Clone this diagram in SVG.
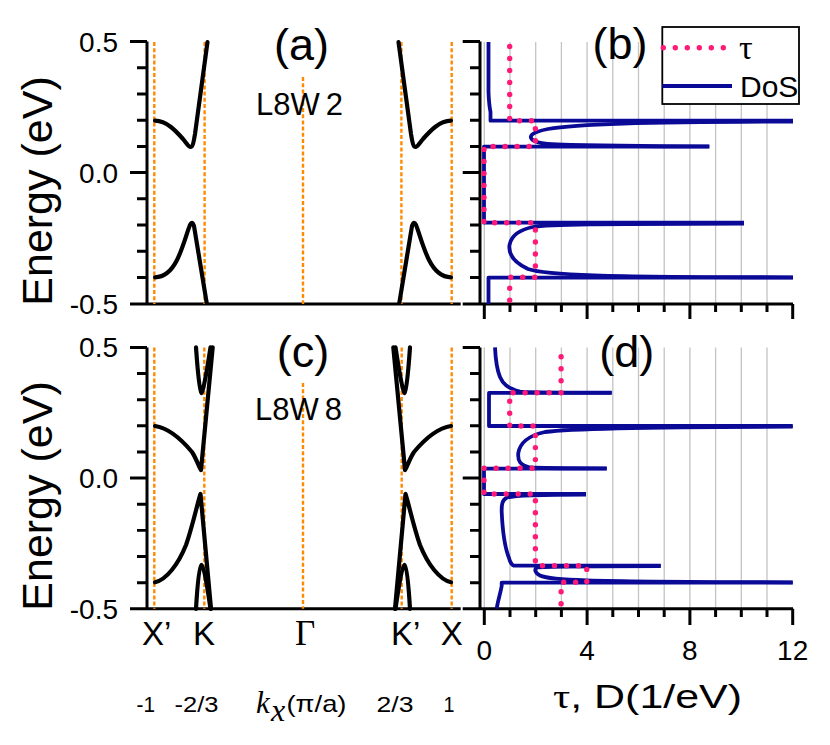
<svg xmlns="http://www.w3.org/2000/svg" width="830" height="745" viewBox="0 0 830 745">
<style>
.ax{stroke:#000;stroke-width:3;fill:none}
.tk{stroke:#000;stroke-width:3;fill:none}
.grid{stroke:#c4c4c4;stroke-width:1.3}
.kl{stroke:#ff8a00;stroke-width:2.4;stroke-dasharray:4 2.2;fill:none}
.band{stroke:#000;stroke-width:4.2;fill:none;stroke-linecap:round;stroke-linejoin:round}
.dos{stroke:#0a0a96;stroke-width:3.8;fill:none;stroke-linejoin:round}
.tau{stroke:#ff1a78;stroke-width:5.4;fill:none;stroke-dasharray:0 12;stroke-linecap:round}
.t{font-family:"Liberation Sans",Arial,sans-serif;fill:#000}
.s{font-family:"Liberation Serif","Times New Roman",serif;fill:#000}
.lab{font-size:45px;text-anchor:middle}
.ytl{font-size:28px;text-anchor:end}
.xtl{font-size:28px;text-anchor:middle}
.kv{font-size:22px}
</style>
<defs>
<g id="yticksL">
<path class="tk" d="M130,0H147M137,26.2H147M137,52.4H147M137,78.6H147M137,104.8H147M130,131H147M137,157.2H147M137,183.4H147M137,209.6H147M137,235.8H147"/>
</g>
<g id="yticksR">
<path class="tk" d="M462.7,0H480M470,26.2H480M470,52.4H480M470,78.6H480M470,104.8H480M462.7,131H480M470,157.2H480M470,183.4H480M470,209.6H480M470,235.8H480"/>
</g>
<g id="grid">
<path class="grid" d="M484.3,0V262M510,0V262M535.7,0V262M561.4,0V262M587.1,0V262M612.8,0V262M638.5,0V262M664.2,0V262M689.9,0V262M715.6,0V262M741.3,0V262M767,0V262"/>
</g>
</defs>

<!-- Panel (a) -->
<g id="panel-a">
<g id="axes-a">
<path class="ax" d="M147,41.6V304M130,304H460.7"/>
<use href="#yticksL" transform="translate(0,41.6)"/>
<text class="t ytl" x="118" y="51.5">0.5</text>
<text class="t ytl" x="118" y="182.5">0.0</text>
<text class="t ytl" x="118" y="313.5">-0.5</text>
<text class="t" font-size="43" text-anchor="middle" transform="translate(52,191) rotate(-90)">Energy (eV)</text>
</g>
<g id="klines-a">
<path class="kl" d="M154.3,42V304M204.6,42V304M303,77V304M401.4,42V304M451.7,42V304"/>
</g>
<g id="bands-a">
<g id="bands-a-left">
<path class="band" d="M155,120.7C167,121 176,131 183,139C187,144 188.5,147 190.5,147C192.5,147 193.5,143 195,134L207.5,42"/>
<path class="band" d="M155,277.3C165,277 172,270 177,260C183,248 187,232 190,225C191.5,222 192.5,222 194,226L206.7,303"/>
</g>
<use href="#bands-a-left" transform="translate(606,0) scale(-1,1)"/>
</g>
<text class="t lab" x="301.5" y="60">(a)</text>
<text class="t" font-size="31" x="256" y="115">L8W<tspan dx="6">2</tspan></text>
</g>

<!-- Panel (b) -->
<g id="panel-b">
<use href="#grid" transform="translate(0,42)"/>
<g id="axes-b">
<path class="ax" d="M480,41.6V304M462.7,304H793"/>
<use href="#yticksR" transform="translate(0,41.6)"/>
<path class="tk" d="M484.3,304V319M510,304V312M535.7,304V312M561.4,304V312M587.1,304V319M612.8,304V312M638.5,304V312M664.2,304V312M689.9,304V319M715.6,304V312M741.3,304V312M767,304V312M792.7,304V319"/>
</g>
<g id="dos-b">
<path class="dos" d="M488.5,42L488.5,92Q489,105 490.5,112L490.5,120.7L793,120.7"/>
<path class="dos" d="M793,121.5C640,122 575,124 548,129C532,132 529,136 531.7,139C534,142 545,144 557,144.5C600,146 660,146.3 709.3,146.3"/>
<path class="dos" d="M709.3,146.6L484,146.6L484,222.7L744,222.7"/>
<path class="dos" d="M744,223.5C600,223.8 548,224 533,227C518,230 511,237 509.5,245C508.5,253 513,262 528,269C545,275 600,277 793,277.3"/>
<path class="dos" d="M793,277.6L488.5,277.6L488.5,304"/>
</g>
<path id="tau-b" class="tau" d="M509.7,46.5L509.7,120.7L535.4,120.7L535.4,146.5L484,146.5L484,222.7L535.4,222.7L535.4,277.3L509.7,277.3L509.7,304"/>
<g id="legend">
<rect x="662.3" y="27" width="136.7" height="77" fill="#fff" stroke="#000" stroke-width="1.8"/>
<path class="tau" d="M663.3,47.7H730"/>
<text class="s" font-size="34" x="739" y="58.5">τ</text>
<path stroke="#0a0a96" stroke-width="3.8" d="M662.3,86H732"/>
<text class="t" font-size="30" x="740" y="96.7">DoS</text>
</g>
<text class="t lab" x="620" y="59">(b)</text>
</g>

<!-- Panel (c) -->
<g id="panel-c">
<g id="axes-c">
<path class="ax" d="M147,347.4V608.8M130,608.8H460.7"/>
<use href="#yticksL" transform="translate(0,347.4) scale(1,0.9977)"/>
<text class="t ytl" x="118" y="357.3">0.5</text>
<text class="t ytl" x="118" y="488">0.0</text>
<text class="t ytl" x="118" y="618.5">-0.5</text>
<text class="t" font-size="43" text-anchor="middle" transform="translate(52,496) rotate(-90)">Energy (eV)</text>
</g>
<g id="klines-c">
<path class="kl" d="M154.3,347.4V608.8M204.3,347.4V608.8M303,383V608.8M401.7,347.4V608.8M451.7,347.4V608.8"/>
</g>
<g id="bands-c">
<g id="bands-c-left">
<path class="band" d="M155,426C168,428 182,440 192,452C196,458 199,467 201,470L212.7,347.4"/>
<path class="band" d="M155,582.3C166,580 178,565 186,545C192,528 197,505 200.5,494L211,608.8"/>
<path class="band" d="M196,347.4Q199,390 201.5,393Q204,390 210.5,347.4"/>
<path class="band" d="M196,608.8Q198.5,567 201.5,565Q204.5,567 210.5,608.8"/>
</g>
<use href="#bands-c-left" transform="translate(606,0) scale(-1,1)"/>
</g>
<text class="t lab" x="303" y="367">(c)</text>
<text class="t" font-size="31" x="255" y="420">L8W<tspan dx="6">8</tspan></text>
<g id="xlabels-c">
<text class="t" font-size="33" x="142" y="645">X’</text>
<text class="t" font-size="33" text-anchor="middle" x="204" y="645">K</text>
<text class="s" font-size="35" text-anchor="middle" x="305" y="645">Γ</text>
<text class="t" font-size="33" x="391" y="645">K’</text>
<text class="t" font-size="33" text-anchor="middle" x="451.7" y="645">X</text>
</g>
<g id="kvalues">
<text class="t kv" x="136.5" y="711.7" textLength="18.5" lengthAdjust="spacingAndGlyphs">-1</text>
<text class="t kv" x="174.5" y="711.7" textLength="44" lengthAdjust="spacingAndGlyphs">-2/3</text>
<text class="s" font-size="31" font-style="italic" x="256" y="712.5">k</text>
<text class="s" font-size="32" font-style="italic" x="271" y="721">x</text>
<text class="t" font-size="24" x="286.5" y="711.7" textLength="60" lengthAdjust="spacingAndGlyphs">(π/a)</text>
<text class="t kv" x="376.5" y="711.7" textLength="37" lengthAdjust="spacingAndGlyphs">2/3</text>
<text class="t kv" x="443.5" y="711.7" textLength="11" lengthAdjust="spacingAndGlyphs">1</text>
</g>
</g>

<!-- Panel (d) -->
<g id="panel-d">
<use href="#grid" transform="translate(0,347.4) scale(1,0.9977)"/>
<g id="axes-d">
<path class="ax" d="M480,347.4V608.8M462.7,608.8H793"/>
<use href="#yticksR" transform="translate(0,347.4) scale(1,0.9977)"/>
<path class="tk" d="M484.3,608.8V625M510,608.8V617M535.7,608.8V617M561.4,608.8V617M587.1,608.8V625M612.8,608.8V617M638.5,608.8V617M664.2,608.8V617M689.9,608.8V625M715.6,608.8V617M741.3,608.8V617M767,608.8V617M792.7,608.8V625"/>
<text class="t xtl" x="484.3" y="660">0</text>
<text class="t xtl" x="587.1" y="660">4</text>
<text class="t xtl" x="689.9" y="660">8</text>
<text class="t xtl" x="792.7" y="660">12</text>
<text class="t" font-size="33" x="553" y="708.3" textLength="189" lengthAdjust="spacingAndGlyphs"><tspan class="s">τ</tspan>, D(1/eV)</text>
</g>
<g id="dos-d">
<path class="dos" d="M495,347.4C495.5,358 497,370 500,377C503,384 507,388 520,391.7C525,392.5 530,392.7 611.7,392.7"/>
<path class="dos" d="M611.7,392.9L489,392.9L489,426L792.7,426"/>
<path class="dos" d="M792.7,426.7C650,426.8 575,428 545,432C527,436 520,443 518.3,453C517.5,461 520,465 530,467.5C540,468.3 560,468.3 606.7,468.3"/>
<path class="dos" d="M606.7,468.6L484,468.6L484,494L586,494"/>
<path class="dos" d="M586,494.5C540,494.5 515,495 507,497.5C502,500 501.5,505 501.7,512C502.5,530 505,548 509,558C510,562 512,565 514,565.7L660.7,565.7"/>
<path class="dos" d="M660.7,566C580,566 545,566 537,567.5C534,569 535,573 540,575.5C550,580 570,581.5 792.7,582.3"/>
<path class="dos" d="M792.7,582.6L501.7,582.6L501.7,586C500,595 497.5,602 496.7,608.8"/>
</g>
<path id="tau-d" class="tau" d="M561.1,356.7L561.1,392.7L509.7,392.7L509.7,426L535.4,426L535.4,468.3L484,468.3L484,494L535.4,494L535.4,565.7L586.8,565.7L586.8,582.3L561.1,582.3L561.1,609"/>
<text class="t lab" x="626.7" y="367">(d)</text>
</g>
</svg>
